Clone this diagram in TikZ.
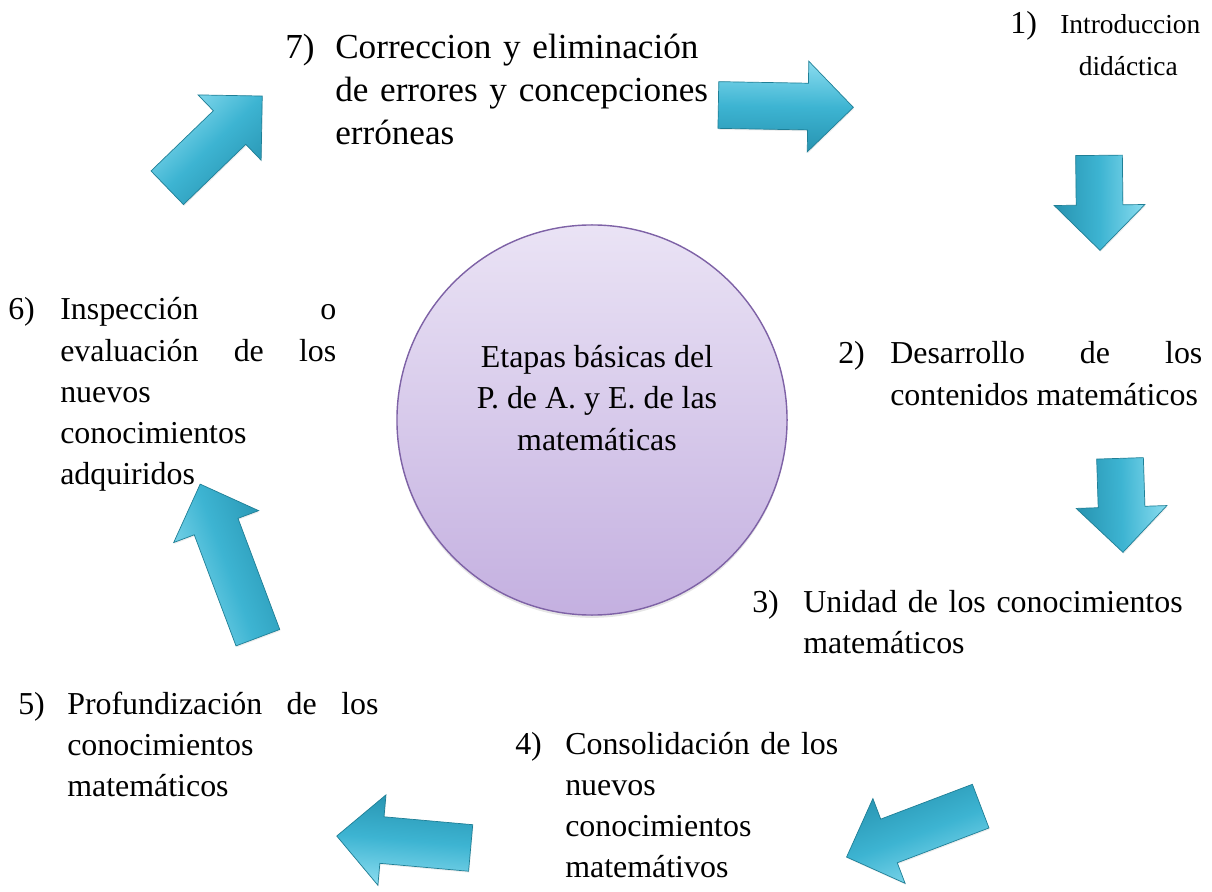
\documentclass[tikz,border=0pt]{standalone}
\usepackage{fontspec}
\setmainfont{Liberation Serif}
\usetikzlibrary{shapes.arrows,shadows}
\definecolor{arrowlight}{HTML}{8ADCEF}
\definecolor{arrowmid}{HTML}{3DB4D2}
\definecolor{arrowdark}{HTML}{2793B0}
\definecolor{arrowedge}{HTML}{1F7F96}
\definecolor{hubtop}{HTML}{EAE3F5}
\definecolor{hubbottom}{HTML}{C4B0E0}
\definecolor{hubedge}{HTML}{7E62A6}
\newcommand{\stagefont}{\fontsize{22.7}{29.2}\selectfont}
\newcommand{\smallstagefont}{\fontsize{19.5}{29.2}\selectfont}
\newcommand{\bigstagefont}{\fontsize{25}{30.3}\selectfont}
\tikzset{
  blockarrow/.style={single arrow, draw=arrowedge, line width=0.5pt,
    inner xsep=0pt, inner ysep=0.575cm,
    minimum width=2.25cm, single arrow head extend=0.55cm, anchor=tail,
    top color=arrowlight, bottom color=arrowdark, middle color=arrowmid,
    drop shadow={opacity=0.15, shadow xshift=0.5pt, shadow yshift=-1pt}},
  flipshade/.style={top color=arrowdark, bottom color=arrowlight, middle color=arrowmid},
  stagenum/.style={anchor=base west, inner sep=0pt, font=\stagefont},
  stagetext/.style={anchor=base west, inner sep=0pt, font=\stagefont, text width=#1},
}
\begin{document}
\begin{tikzpicture}[x=0.025cm, y=-0.025cm]
	\useasboundingbox (0,0) rectangle (1212,892);
	% centre
	\node[circle, draw=hubedge, line width=1pt, minimum size=9.75cm,
		top color=hubtop, bottom color=hubbottom,
		drop shadow={opacity=0.2, shadow xshift=0pt, shadow yshift=-2pt}] (hub) at (592,420) {};
	\node[font=\stagefont, align=center, inner sep=0pt] (hubtext) at (597,398)
		{Etapas básicas del\\P. de A. y E. de las\\matemáticas};
	% stages
	\node[stagenum] (n1) at (1010,34) {1)};
	\node[stagetext=3.4cm, align=center, font=\smallstagefont] (s1) at (1060,34) {Introduccion\\didáctica};
	\node[stagenum] (n2) at (838,364) {2)};
	\node[stagetext=7.8cm, align=justify] (s2) at (890,364) {Desarrollo de los\linebreak contenidos matemáticos};
	\node[stagenum] (n3) at (752,612) {3)};
	\node[stagetext=10cm, align=left] (s3) at (803,612) {Unidad de los conocimientos\\matemáticos};
	\node[stagenum] (n4) at (515,754) {4)};
	\node[stagetext=7cm, align=left] (s4) at (565,754) {Consolidación de los\\nuevos\\conocimientos\\matemátivos};
	\node[stagenum] (n5) at (18,714) {5)};
	\node[stagetext=7.78cm, align=justify] (s5) at (67,714) {Profundización de los\linebreak conocimientos\\matemáticos};
	\node[stagenum] (n6) at (8,320) {6)};
	\node[stagetext=6.9cm, align=justify] (s6) at (60,320) {Inspección o\linebreak evaluación de los\linebreak nuevos\\conocimientos\\adquiridos};
	\node[stagenum, font=\bigstagefont] (n7) at (285,59) {7)};
	\node[stagetext=10.5cm, align=left, font=\bigstagefont] (s7) at (335,59) {Correccion y eliminación\\de errores y concepciones\\erróneas};
	% arrows
	\node[blockarrow, rotate=-1, shading angle=-1, minimum height=3.375cm] (a71) at (718,105) {};
	\node[blockarrow, rotate=-89.4, shading angle=-89.4, minimum height=2.375cm] (a12) at (1099,155) {};
	\node[blockarrow, rotate=-88.2, shading angle=-88.2, minimum height=2.35cm] (a23) at (1120,458) {};
	\node[blockarrow, rotate=200.8, flipshade, shading angle=20.8, minimum height=3.585cm] (a34) at (981,806) {};
	\node[blockarrow, rotate=174.9, flipshade, shading angle=-5.1, minimum height=3.36cm] (a45) at (471,848) {};
	\node[blockarrow, rotate=110.6, flipshade, shading angle=-69.4, minimum height=4.1cm] (a56) at (258,638) {};
	\node[blockarrow, rotate=44, shading angle=44, minimum height=3.3cm] (a67) at (167,188) {};
\end{tikzpicture}
\end{document}
